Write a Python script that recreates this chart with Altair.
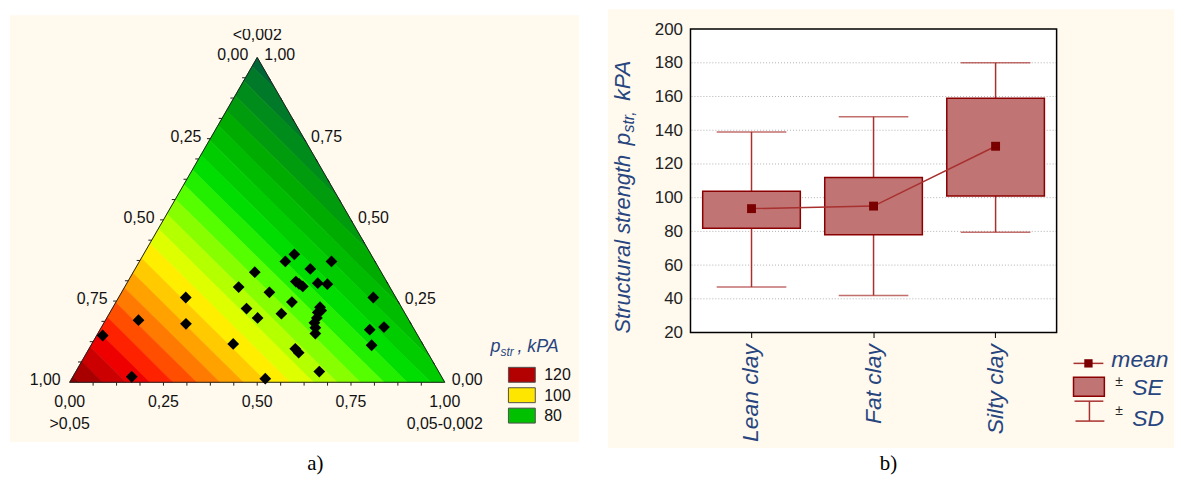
import math
import altair as alt
import pandas as pd

# ---------------- (a) ternary diagram data ----------------
# fractions of the 0,05-0,002 (silt) and <0,002 (clay) sizes for each sample
silt = [0.402, 0.389, 0.512, 0.467, 0.324, 0.448, 0.460, 0.474, 0.509, 0.536,
        0.304, 0.394, 0.179, 0.679, 0.469, 0.552, 0.358, 0.554, 0.459, 0.402,
        0.088, 0.560, 0.561, 0.220, 0.719, 0.753, 0.580, 0.016, 0.377, 0.748,
        0.550, 0.565, 0.649, 0.157, 0.516, 0.560, 0.571]
clay = [0.394, 0.372, 0.372, 0.349, 0.339, 0.310, 0.303, 0.295, 0.305, 0.302,
        0.293, 0.277, 0.261, 0.261, 0.247, 0.231, 0.227, 0.215, 0.211, 0.198,
        0.191, 0.198, 0.183, 0.180, 0.162, 0.170, 0.150, 0.144, 0.118, 0.114,
        0.103, 0.091, 0.033, 0.017, 0.011, 0.221, 0.168]

axis_vals = [0.0, 0.25, 0.5, 0.75, 1.0]
axis_text = ["0,00", "0,25", "0,50", "0,75", "1,00"]

# fitted p_str surface (kPa) at the three pure-fraction corners
p_sand_corner = 123.5
p_silt_corner = 83.5
p_clay_corner = 68.5

band_lows = [67.5, 70, 72.5, 75, 77.5, 80, 82.5, 85, 87.5, 90, 92.5, 95, 97.5,
             100, 102.5, 105, 107.5, 110, 112.5, 115, 117.5, 120, 122.5]
band_colors = ["#006635", "#007a28", "#008c1a", "#009c0e", "#00ac00", "#00bc00",
               "#00cc00", "#00dd00", "#22ee00", "#55ff00", "#88ff00", "#b4ff00",
               "#ddff00", "#ffee00", "#ffca00", "#ffa200", "#ff7a00", "#ff4e00",
               "#ff2200", "#ee0000", "#cc0000", "#a80000", "#880000"]

legend_vals = ["120", "100", "80"]
legend_cols = ["#b30000", "#ffe600", "#00c000"]

# ---------------- (b) mean / SE / SD chart data ----------------
soil = ["Lean clay", "Fat clay", "Silty clay"]
mean = [93.5, 95.0, 130.5]
se_lo = [81.8, 78.0, 101.0]
se_hi = [103.8, 112.0, 159.0]
sd_lo = [47.0, 42.0, 79.5]
sd_hi = [139.0, 148.0, 180.0]
y_ticks = [20, 40, 60, 80, 100, 120, 140, 160, 180, 200]
grid_vals = [40, 60, 80, 100, 120, 140, 160, 180]

# ---------------- styling ----------------
CREAM = "#fff9ee"
BLUE = "#27457e"
DRED = "#8b0000"
WRED = "#a8302e"
BOXFILL = "#c07474"
FONT = "Liberation Sans"
S = math.sqrt(3) / 2
OX = 60  # left offset of triangle inside panel (a)

# ---------------- ternary geometry ----------------
def to_xy(b, c):
    return b + c / 2.0, c * S


def p_at(pt):
    x, y = pt
    c = y / S
    b = x - c / 2.0
    a = 1.0 - b - c
    return p_sand_corner * a + p_silt_corner * b + p_clay_corner * c


def clip(poly, fn):
    out = []
    n = len(poly)
    for i in range(n):
        P, Q = poly[i], poly[(i + 1) % n]
        fp, fq = fn(P), fn(Q)
        if fp >= 0:
            out.append(P)
        if (fp >= 0) != (fq >= 0):
            t = fp / (fp - fq)
            out.append((P[0] + t * (Q[0] - P[0]), P[1] + t * (Q[1] - P[1])))
    return out


tri = [(0.0, 0.0), (1.0, 0.0), (0.5, S)]
features = []
for i, lo in enumerate(band_lows):
    hi = band_lows[i + 1] if i + 1 < len(band_lows) else None
    poly = list(tri)
    if i > 0:
        poly = clip(poly, lambda p, lo=lo: p_at(p) - lo)
    if hi is not None and poly:
        poly = clip(poly, lambda p, hi=hi: hi - p_at(p))
    if len(poly) >= 3:
        ring = [list(p) for p in poly] + [list(poly[0])]
        features.append({"type": "Feature",
                         "geometry": {"type": "Polygon", "coordinates": [ring]},
                         "properties": {"color": band_colors[i]}})

outline = [{"type": "Feature", "properties": {},
            "geometry": {"type": "LineString",
                         "coordinates": [[0, 0], [1, 0], [0.5, S], [0, 0]]}}]

tick_segs = []
tl = 0.009
for k in range(1, 16):
    v = k / 16.0
    tick_segs.append([[v, 0], [v, -tl]])
    lx, ly = to_xy(0, v)
    tick_segs.append([[lx, ly], [lx - tl, ly]])
    rx, ry = to_xy(1 - v, v)
    tick_segs.append([[rx, ry], [rx + tl * 0.5, ry - tl * S]])
ticks_feat = [{"type": "Feature", "properties": {},
               "geometry": {"type": "MultiLineString", "coordinates": tick_segs}}]

pts = pd.DataFrame({"silt": silt, "clay": clay})
pts["x"] = pts["silt"] + pts["clay"] / 2.0
pts["y"] = pts["clay"] * S

lab = pd.DataFrame({"v": axis_vals, "t": axis_text})
bottom_lab = lab.assign(x=lab["v"], y=0.0)
left_lab = lab.assign(x=(1 - lab["v"]) / 2.0, y=(1 - lab["v"]) * S)
right_lab = lab.assign(x=1 - lab["v"] / 2.0, y=lab["v"] * S)

proj = dict(type="identity", reflectY=True, scale=377, translate=[OX, 355])
one = pd.DataFrame({"k": [0]})

AW, AH = 572, 415
cream_a = alt.Chart(one).mark_rect(color=CREAM).encode(
    x=alt.value(0), x2=alt.value(AW), y=alt.value(-14), y2=alt.value(AH))

bands = alt.Chart(alt.Data(values=features)).mark_geoshape(strokeWidth=0.7).encode(
    fill=alt.Fill("properties.color:N", scale=None),
    stroke=alt.Stroke("properties.color:N", scale=None)).project(**proj)

tri_line = alt.Chart(alt.Data(values=outline)).mark_geoshape(
    filled=False, stroke="#202020", strokeWidth=1).project(**proj)

tick_line = alt.Chart(alt.Data(values=ticks_feat)).mark_geoshape(
    filled=False, stroke="#202020", strokeWidth=1).project(**proj)

points = alt.Chart(pts).mark_point(shape="diamond", filled=True, color="black",
                                   opacity=1, size=140).encode(
    longitude="x:Q", latitude="y:Q").project(**proj)

txt = dict(fontSize=16, color="#111111", font=FONT)
bl = alt.Chart(bottom_lab).mark_text(dy=20, align="center", baseline="middle", **txt).encode(
    longitude="x:Q", latitude="y:Q", text="t:N").project(**proj)
ll = alt.Chart(left_lab).mark_text(dx=-9, dy=-2, align="right", baseline="middle", **txt).encode(
    longitude="x:Q", latitude="y:Q", text="t:N").project(**proj)
rl = alt.Chart(right_lab).mark_text(dx=7, dy=-2, align="left", baseline="middle", **txt).encode(
    longitude="x:Q", latitude="y:Q", text="t:N").project(**proj)

corner_names = pd.DataFrame({"x": [0.5, 0.0, 1.0], "y": [S, 0.0, 0.0],
                             "t": ["<0,002", ">0,05", "0,05-0,002"]})
top_name = alt.Chart(corner_names.iloc[[0]]).mark_text(dy=-23, align="center", baseline="middle", **txt).encode(
    longitude="x:Q", latitude="y:Q", text="t:N").project(**proj)
base_names = alt.Chart(corner_names.iloc[[1, 2]]).mark_text(dy=42, align="center", baseline="middle", **txt).encode(
    longitude="x:Q", latitude="y:Q", text="t:N").project(**proj)

leg_title = [
    alt.Chart(one).mark_text(text="p", fontSize=18, fontStyle="italic", color=BLUE,
                             align="left", baseline="alphabetic", font=FONT).encode(
        x=alt.value(OX + 423), y=alt.value(325)),
    alt.Chart(one).mark_text(text="str", fontSize=12, fontStyle="italic", color=BLUE,
                             align="left", baseline="alphabetic", font=FONT).encode(
        x=alt.value(OX + 433), y=alt.value(329)),
    alt.Chart(one).mark_text(text=", kPA", fontSize=18, fontStyle="italic", color=BLUE,
                             align="left", baseline="alphabetic", font=FONT).encode(
        x=alt.value(OX + 450), y=alt.value(325)),
]
leg_items = []
for i, (v, c) in enumerate(zip(legend_vals, legend_cols)):
    y0 = 340 + i * 20.5
    leg_items.append(alt.Chart(one).mark_rect(color=c, stroke="#505050", strokeWidth=1).encode(
        x=alt.value(OX + 441), x2=alt.value(OX + 468), y=alt.value(y0), y2=alt.value(y0 + 15)))
    leg_items.append(alt.Chart(one).mark_text(text=v, fontSize=16, color="#111111", align="left",
                                              baseline="middle", font=FONT).encode(
        x=alt.value(OX + 477), y=alt.value(y0 + 8)))

cap_a = alt.Chart(one).mark_text(text="a)", fontSize=21, font="Liberation Serif", color="black",
                                 align="center", baseline="middle").encode(
    x=alt.value(OX + 247), y=alt.value(437))

left = alt.layer(cream_a, bands, tri_line, tick_line, points, bl, ll, rl, top_name, base_names,
                 *leg_title, *leg_items, cap_a).properties(width=AW, height=AH)

# ---------------- (b) chart ----------------
box = pd.DataFrame({"soil": soil, "mean": mean, "se_lo": se_lo, "se_hi": se_hi,
                    "sd_lo": sd_lo, "sd_hi": sd_hi})
W, H = 368, 305
xaxis = alt.Axis(labelAngle=270, labelAlign="right", labelBaseline="middle", labelFontSize=23,
                 labelFontStyle="italic", labelColor=BLUE, labelPadding=6, tickSize=5,
                 tickColor="black", domain=False, grid=False, zindex=1, title=None, labelFont=FONT)
yaxis = alt.Axis(values=y_ticks, labelFontSize=17, labelColor="#222222", ticks=False,
                 domain=False, grid=False, labelPadding=8, title=None, zindex=1, labelFont=FONT)
xs = alt.Scale(paddingInner=0, paddingOuter=0)
ys = alt.Scale(domain=[20, 200], nice=False, zero=False)
X = alt.X("soil:N", sort=soil, scale=xs, axis=xaxis)


def Y(f):
    return alt.Y(f + ":Q", scale=ys, axis=yaxis)


cream_b = alt.Chart(one).mark_rect(color=CREAM).encode(
    x=alt.value(-83), x2=alt.value(486), y=alt.value(-20), y2=alt.value(421))
white_b = alt.Chart(one).mark_rect(color="white").encode(
    x=alt.value(0), x2=alt.value(W), y=alt.value(0), y2=alt.value(H))
grid = alt.Chart(pd.DataFrame({"g": grid_vals})).mark_rule(
    color="#b0b0b0", strokeDash=[1, 2], strokeWidth=1).encode(y=alt.Y("g:Q", scale=ys, axis=yaxis))
stem = alt.Chart(box).mark_rule(color=WRED, strokeWidth=1.5).encode(x=X, y=Y("sd_lo"), y2="sd_hi:Q")
cap_lo = alt.Chart(box).mark_tick(color=WRED, size=70, thickness=1.5).encode(x=X, y=Y("sd_lo"))
cap_hi = alt.Chart(box).mark_tick(color=WRED, size=70, thickness=1.5).encode(x=X, y=Y("sd_hi"))
boxes = alt.Chart(box).mark_bar(width=alt.RelativeBandSize(0.8), fill=BOXFILL, stroke=DRED,
                                strokeWidth=1.5).encode(x=X, y=Y("se_lo"), y2="se_hi:Q")
mline = alt.Chart(box).mark_line(color=WRED, strokeWidth=1.5).encode(x=X, y=Y("mean"))
mpts = alt.Chart(box).mark_square(color="#7a0000", size=80, opacity=1).encode(x=X, y=Y("mean"))
frame = alt.Chart(one).mark_rect(filled=False, stroke="black", strokeWidth=1.5).encode(
    x=alt.value(0), x2=alt.value(W), y=alt.value(0), y2=alt.value(H))

ttl = dict(fontStyle="italic", color=BLUE, angle=270, align="left", baseline="alphabetic", font=FONT)
ytitle = [
    alt.Chart(one).mark_text(text="Structural strength", fontSize=22, **ttl).encode(
        x=alt.value(-61), y=alt.value(306)),
    alt.Chart(one).mark_text(text="p", fontSize=23, **ttl).encode(x=alt.value(-61), y=alt.value(117)),
    alt.Chart(one).mark_text(text="str,", fontSize=16, **ttl).encode(x=alt.value(-57), y=alt.value(104)),
    alt.Chart(one).mark_text(text="kPA", fontSize=23, **ttl).encode(x=alt.value(-61), y=alt.value(72)),
]

legend_b = [
    alt.Chart(one).mark_rule(color=WRED, strokeWidth=1.5).encode(
        x=alt.value(385), x2=alt.value(415), y=alt.value(336)),
    alt.Chart(one).mark_square(color="#7a0000", size=70, opacity=1).encode(
        x=alt.value(400), y=alt.value(336)),
    alt.Chart(one).mark_rect(fill=BOXFILL, stroke=DRED, strokeWidth=1.5).encode(
        x=alt.value(385), x2=alt.value(416), y=alt.value(350), y2=alt.value(369)),
    alt.Chart(one).mark_rule(color=WRED, strokeWidth=1.5).encode(
        x=alt.value(386), x2=alt.value(415), y=alt.value(374)),
    alt.Chart(one).mark_rule(color=WRED, strokeWidth=1.5).encode(
        x=alt.value(401), y=alt.value(374), y2=alt.value(394)),
    alt.Chart(one).mark_rule(color=WRED, strokeWidth=1.5).encode(
        x=alt.value(387), x2=alt.value(416), y=alt.value(394)),
    alt.Chart(one).mark_text(text="mean", fontSize=23, fontStyle="italic", color=BLUE, align="left",
                             baseline="middle", font=FONT).encode(x=alt.value(423), y=alt.value(333)),
    alt.Chart(one).mark_text(text="±", fontSize=14, color="#222222", align="left",
                             baseline="middle", font=FONT).encode(x=alt.value(427), y=alt.value(355)),
    alt.Chart(one).mark_text(text="SE", fontSize=23, fontStyle="italic", color=BLUE, align="left",
                             baseline="middle", font=FONT).encode(x=alt.value(444), y=alt.value(361)),
    alt.Chart(one).mark_text(text="±", fontSize=14, color="#222222", align="left",
                             baseline="middle", font=FONT).encode(x=alt.value(427), y=alt.value(384)),
    alt.Chart(one).mark_text(text="SD", fontSize=23, fontStyle="italic", color=BLUE, align="left",
                             baseline="middle", font=FONT).encode(x=alt.value(444), y=alt.value(392)),
]
cap_b = alt.Chart(one).mark_text(text="b)", fontSize=21, font="Liberation Serif", color="black",
                                 align="center", baseline="middle").encode(
    x=alt.value(199), y=alt.value(437))

right = alt.layer(cream_b, white_b, grid, stem, cap_lo, cap_hi, boxes, mline, mpts, frame,
                  *ytitle, *legend_b, cap_b).properties(width=W, height=H)

chart = alt.hconcat(left, right, spacing=112, bounds="flush").properties(
    padding={"left": 2, "top": 0, "right": 0, "bottom": 0}
).configure(font=FONT, background="white").configure_view(stroke=None)

chart.save("out.html", embed_options={"renderer": "svg", "actions": False})
